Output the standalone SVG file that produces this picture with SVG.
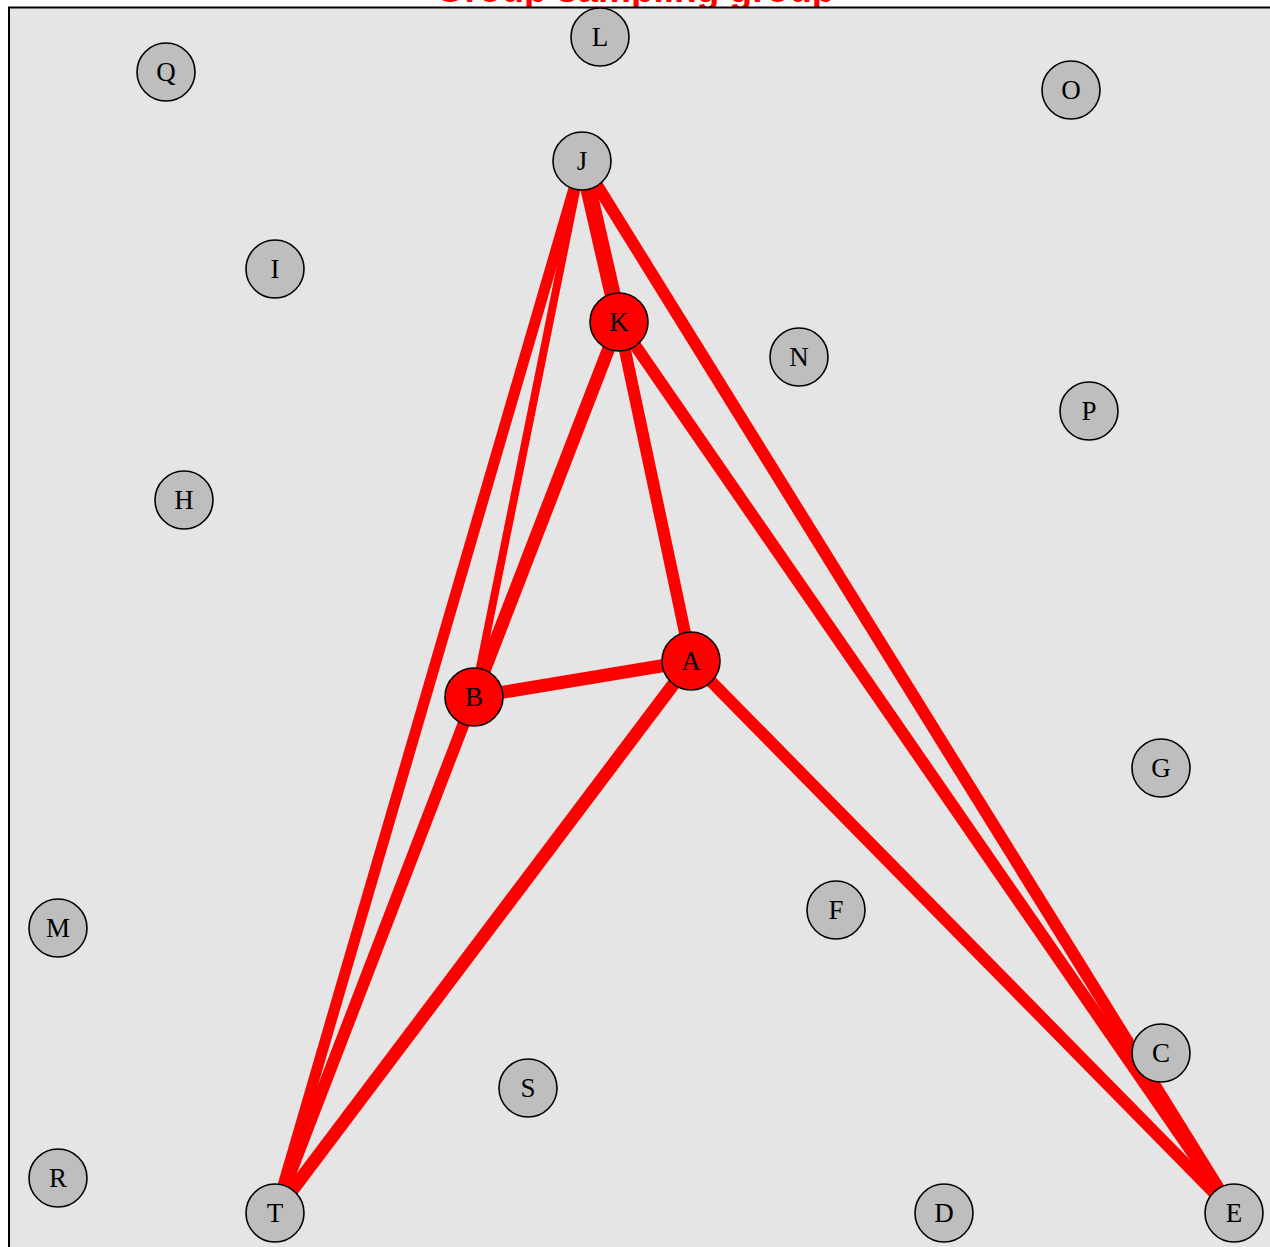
<svg xmlns="http://www.w3.org/2000/svg" width="1270" height="1247" viewBox="0 0 1270 1247">
<style>
.title{font-family:"Liberation Sans",Arial,sans-serif;font-weight:bold;font-size:37px;fill:#ff0000}
.e{stroke:#ff0000;stroke-linecap:butt;fill:none}
.n circle{stroke:#000;stroke-width:1.6}
.g circle{fill:#bebebe}
.r circle{fill:#ff0000}
.n text{font-family:"Liberation Serif","Times New Roman",serif;font-size:27px;fill:#000;text-anchor:middle}
</style>
<rect x="0" y="0" width="1270" height="1247" fill="#ffffff"/>
<text class="title" x="635" y="1.5" text-anchor="middle">Group sampling group</text>
<rect x="9" y="7.5" width="1270" height="1250" fill="#e5e5e5" stroke="#000" stroke-width="2"/>
<g id="edges">
<line class="e" x1="582" y1="161" x2="474" y2="697" stroke-width="8"/>
<line class="e" x1="582" y1="161" x2="275" y2="1213" stroke-width="11"/>
<line class="e" x1="582" y1="161" x2="619" y2="322" stroke-width="16"/>
<line class="e" x1="582" y1="161" x2="1234" y2="1213" stroke-width="12"/>
<line class="e" x1="619" y1="322" x2="474" y2="697" stroke-width="13"/>
<line class="e" x1="619" y1="322" x2="691" y2="661" stroke-width="12"/>
<line class="e" x1="619" y1="322" x2="1234" y2="1213" stroke-width="12"/>
<line class="e" x1="474" y1="697" x2="691" y2="661" stroke-width="13"/>
<line class="e" x1="474" y1="697" x2="275" y2="1213" stroke-width="12"/>
<line class="e" x1="691" y1="661" x2="275" y2="1213" stroke-width="13"/>
<line class="e" x1="691" y1="661" x2="1234" y2="1213" stroke-width="12"/>
</g>
<g id="node-Q" class="n g"><circle cx="166" cy="72" r="29"/><text x="166" y="81">Q</text></g>
<g id="node-L" class="n g"><circle cx="600" cy="37" r="29"/><text x="600" y="46">L</text></g>
<g id="node-O" class="n g"><circle cx="1071" cy="90" r="29"/><text x="1071" y="99">O</text></g>
<g id="node-J" class="n g"><circle cx="582" cy="161" r="29"/><text x="582" y="170">J</text></g>
<g id="node-I" class="n g"><circle cx="275" cy="269" r="29"/><text x="275" y="278">I</text></g>
<g id="node-K" class="n r"><circle cx="619" cy="322" r="29"/><text x="619" y="331">K</text></g>
<g id="node-N" class="n g"><circle cx="799" cy="357" r="29"/><text x="799" y="366">N</text></g>
<g id="node-P" class="n g"><circle cx="1089" cy="411" r="29"/><text x="1089" y="420">P</text></g>
<g id="node-H" class="n g"><circle cx="184" cy="500" r="29"/><text x="184" y="509">H</text></g>
<g id="node-A" class="n r"><circle cx="691" cy="661" r="29"/><text x="691" y="670">A</text></g>
<g id="node-B" class="n r"><circle cx="474" cy="697" r="29"/><text x="474" y="706">B</text></g>
<g id="node-G" class="n g"><circle cx="1161" cy="768" r="29"/><text x="1161" y="777">G</text></g>
<g id="node-F" class="n g"><circle cx="836" cy="910" r="29"/><text x="836" y="919">F</text></g>
<g id="node-M" class="n g"><circle cx="58" cy="928" r="29"/><text x="58" y="937">M</text></g>
<g id="node-C" class="n g"><circle cx="1161" cy="1053" r="29"/><text x="1161" y="1062">C</text></g>
<g id="node-S" class="n g"><circle cx="528" cy="1088" r="29"/><text x="528" y="1097">S</text></g>
<g id="node-R" class="n g"><circle cx="58" cy="1178" r="29"/><text x="58" y="1187">R</text></g>
<g id="node-T" class="n g"><circle cx="275" cy="1213" r="29"/><text x="275" y="1222">T</text></g>
<g id="node-D" class="n g"><circle cx="944" cy="1213" r="29"/><text x="944" y="1222">D</text></g>
<g id="node-E" class="n g"><circle cx="1234" cy="1213" r="29"/><text x="1234" y="1222">E</text></g>
</svg>
